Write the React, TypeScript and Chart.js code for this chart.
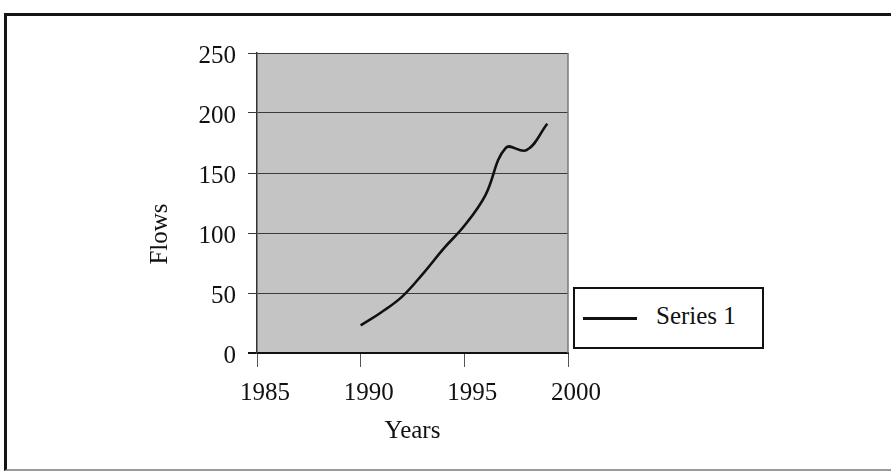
import React, { useEffect, useRef } from "react";
import { Chart, registerables } from "chart.js";

Chart.register(...registerables);

// Flows per year
const years: number[] = [1990, 1991, 1992, 1993, 1994, 1995, 1996, 1997, 1998, 1999];
const flows: number[] = [23, 34, 47, 66, 87, 106, 131, 171, 169, 191];

const xTicks: number[] = [1985, 1990, 1995, 2000];
const yTicks: number[] = [0, 50, 100, 150, 200, 250];

const seriesLabel = "Series 1";
const xTitle = "Years";
const yTitle = "Flows";

const FONT = "'Liberation Serif', 'Times New Roman', serif";

// Grey plot backdrop, right edge line and the rotated y-axis title
const plotDecor = {
  id: "plotDecor",
  beforeDraw(chart: any) {
    const { ctx, chartArea: a } = chart;
    ctx.save();
    ctx.fillStyle = "#c4c4c4";
    ctx.fillRect(a.left, a.top, a.right - a.left, a.bottom - a.top);
    ctx.restore();
  },
  afterDraw(chart: any) {
    const { ctx, chartArea: a } = chart;
    ctx.save();
    ctx.strokeStyle = "#7a7a7a";
    ctx.lineWidth = 1.5;
    ctx.beginPath();
    ctx.moveTo(a.right, a.top);
    ctx.lineTo(a.right, a.bottom);
    ctx.stroke();
    ctx.translate(160, 234);
    ctx.rotate(-Math.PI / 2);
    ctx.fillStyle = "#111";
    ctx.font = `25px ${FONT}`;
    ctx.textAlign = "center";
    ctx.textBaseline = "middle";
    ctx.fillText(yTitle, 0, 0);
    ctx.restore();
  },
};

function FlowsChart() {
  const ref = useRef<HTMLCanvasElement | null>(null);
  useEffect(() => {
    if (!ref.current) return;
    const chart = new Chart(ref.current, {
      type: "line",
      data: {
        datasets: [
          {
            label: seriesLabel,
            data: years.map((y, i) => ({ x: y, y: flows[i] })),
            borderColor: "#111",
            borderWidth: 2.6,
            pointRadius: 0,
            tension: 0.4,
            fill: false,
          },
        ],
      },
      options: {
        responsive: false,
        animation: false,
        devicePixelRatio: 1,
        layout: { padding: { left: 140, top: 53, right: 323, bottom: 20 } },
        plugins: {
          legend: { display: false },
          tooltip: { enabled: false },
        },
        scales: {
          x: {
            type: "linear",
            min: 1985,
            max: 2000,
            afterBuildTicks: (s: any) => {
              s.ticks = xTicks.map((v) => ({ value: v }));
            },
            afterFit: (s: any) => {
              s.height = 472 - 353 - 20;
            },
            ticks: {
              color: "#111",
              font: { family: FONT, size: 25 },
              padding: 11,
              labelOffset: 8,
              maxRotation: 0,
              autoSkip: false,
              callback: (v: any) => String(v),
            },
            grid: {
              drawOnChartArea: false,
              drawTicks: true,
              tickLength: 14,
              color: "#555",
              lineWidth: 1,
            },
            border: { display: true, color: "#111", width: 2 },
            title: {
              display: true,
              text: xTitle,
              color: "#111",
              font: { family: FONT, size: 25 },
              padding: { top: 0, bottom: 6 },
            },
          },
          y: {
            type: "linear",
            min: 0,
            max: 250,
            afterBuildTicks: (s: any) => {
              s.ticks = yTicks.map((v) => ({ value: v }));
            },
            afterFit: (s: any) => {
              s.width = 257 - 140;
            },
            ticks: {
              color: "#111",
              font: { family: FONT, size: 25 },
              padding: 12,
              labelOffset: 3,
            },
            grid: {
              drawTicks: true,
              tickLength: 9,
              color: (c: any) => (c.tick && c.tick.value === 0 ? "#111" : "#3a3a3a"),
              lineWidth: (c: any) => (c.tick && c.tick.value === 0 ? 2 : 1),
            },
            border: { display: true, color: "#333", width: 1.5 },
          },
        },
      },
      plugins: [plotDecor],
    });
    return () => chart.destroy();
  }, []);
  return <canvas ref={ref} width={891} height={472} style={{ width: 891, height: 472, display: "block" }} />;
}

export default function App() {
  return (
    <div style={{ position: "absolute", left: 0, top: 0, width: 891, height: 472, background: "#fff", overflow: "hidden" }}>
      {/* outer frame, open on the right */}
      <div
        style={{
          position: "absolute",
          left: 4,
          top: 13,
          width: 900,
          height: 453,
          borderTop: "3px solid #151515",
          borderLeft: "3px solid #151515",
          borderBottom: "2px solid #9a9a9a",
        }}
      />
      <div style={{ position: "absolute", left: 0, top: 0 }}>
        <FlowsChart />
      </div>
      {/* legend */}
      <div
        style={{
          position: "absolute",
          left: 573,
          top: 287,
          width: 187,
          height: 58,
          border: "2px solid #111",
          background: "#fff",
          fontFamily: FONT,
          fontSize: 25,
          color: "#111",
        }}
      >
        <div style={{ position: "absolute", left: 8, top: 28, width: 54, height: 3, background: "#111" }} />
        <div style={{ position: "absolute", left: 81, top: 12, lineHeight: "30px", whiteSpace: "nowrap" }}>{seriesLabel}</div>
      </div>
    </div>
  );
}
